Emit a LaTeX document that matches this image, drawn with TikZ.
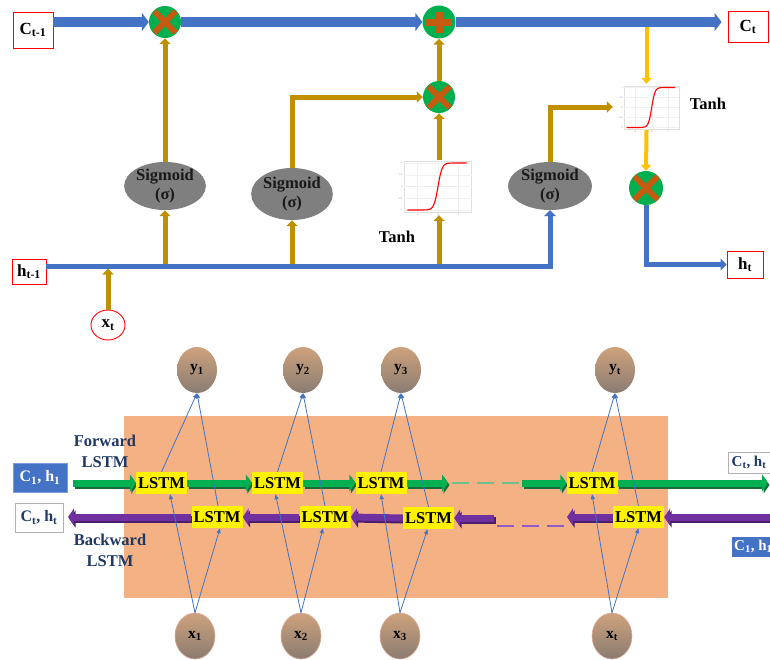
\documentclass[tikz,border=0pt]{standalone}
\usepackage{fontspec}
\setmainfont{Liberation Serif}
\usetikzlibrary{arrows.meta,calc,shapes.geometric}
\definecolor{cblue}{HTML}{4472C4}
\definecolor{cgold}{HTML}{BF9000}
\definecolor{cyellow}{HTML}{FFC000}
\definecolor{cgreen}{HTML}{00B050}
\definecolor{cdgreen}{HTML}{1B6B3A}
\definecolor{corange}{HTML}{C55A11}
\definecolor{cgray}{HTML}{7F7F7F}
\definecolor{cbg}{HTML}{F4B183}
\definecolor{cnavy}{HTML}{1F3864}
\definecolor{cpurple}{HTML}{7030A0}
\definecolor{cdpurple}{HTML}{4A1D6E}
\definecolor{cdashg}{HTML}{6CC08A}
\definecolor{cdashp}{HTML}{8E5CC4}
\newcommand{\myplotbody}{%
  \draw[gray!25, line width=0.3pt] (-8.2,-1.08) rectangle (8.2,1.08);
  \foreach \gx in {-5,0,5} \draw[gray!12, line width=0.3pt] (\gx,-1.08) -- (\gx,1.08);
  \foreach \gy in {-1,-0.5,0,0.5,1} \draw[gray!12, line width=0.3pt] (-8.2,\gy) -- (8.2,\gy);
  \draw[red, line width=1.1pt, domain=-7.5:7, samples=80, smooth] plot (\x,{tanh(\x)});
  \foreach \gy/\gl in {-1/-1,-0.5/-0.5,0/0,0.5/0.5,1/1}
    \node[font=\fontsize{2.5}{3}\selectfont, text=gray, inner sep=0, anchor=east] at (-8.6,\gy) {\gl};
  \foreach \gx/\gl in {-5/-5,0/0,5/5}
    \node[font=\fontsize{2.5}{3}\selectfont, text=gray, inner sep=0, anchor=north] at (\gx,-1.15) {\gl};
}
\begin{document}
\begin{tikzpicture}[x=1pt,y=-1pt,
  lbl/.style={font=\fontsize{16.5}{19}\selectfont\bfseries, text=black, inner sep=0},
  redbox/.style={draw=red, line width=0.9pt, fill=white, inner sep=0, font=\fontsize{17}{20}\selectfont\bfseries},
  mulnode/.style={circle, fill=cgreen, minimum size=32pt, inner sep=0, path picture={
    \draw[line width=6pt, corange, shorten <=7.6pt, shorten >=7.6pt] (path picture bounding box.north west) -- (path picture bounding box.south east);
    \draw[line width=6pt, corange, shorten <=7.6pt, shorten >=7.6pt] (path picture bounding box.south west) -- (path picture bounding box.north east);}},
  addnode/.style={circle, fill=cgreen, minimum size=33pt, inner sep=0, path picture={
    \draw[line width=7pt, corange, shorten <=3.5pt, shorten >=3.5pt] (path picture bounding box.west) -- (path picture bounding box.east);
    \draw[line width=7pt, corange, shorten <=6pt, shorten >=6pt] (path picture bounding box.north) -- (path picture bounding box.south);}},
  signode/.style={ellipse, fill=cgray, inner sep=0, align=center, text=black!90,
    font=\fontsize{16.5}{19}\selectfont\bfseries},
  thickblue/.style={draw=cblue, line width=10pt, -{Triangle[width=18pt,length=7pt]}},
  medblue/.style={draw=cblue, line width=5pt, -{Triangle[width=12pt,length=6pt]}},
  goldarr/.style={draw=cgold, line width=5pt, -{Triangle[width=11pt,length=6pt]}},
  yelarr/.style={draw=cyellow, line width=4pt, -{Triangle[width=10pt,length=6pt]}},
  lstm/.style={fill=yellow, minimum width=51pt, minimum height=22pt, inner sep=0,
    font=\fontsize{16.5}{19}\selectfont\bfseries},
  ball/.style={ellipse, minimum width=40pt, minimum height=46pt, inner sep=0,
    top color={rgb,255:red,206;green,162;blue,124}, bottom color={rgb,255:red,138;green,124;blue,114},
    font=\fontsize{15.5}{18}\selectfont\bfseries},
  xball/.style={ball, draw={rgb,255:red,225;green,170;blue,150}, line width=0.6pt},
  fwdarr/.style={draw=cgreen, line width=7pt, -{Triangle[width=17pt,length=6pt]}},
  fwdsh/.style={draw=cdgreen, line width=7pt, -{Triangle[width=17pt,length=6pt]}},
  bwdarr/.style={draw=cpurple, line width=7pt, -{Triangle[width=17pt,length=6pt]}},
  bwdsh/.style={draw=cdpurple, line width=7pt, -{Triangle[width=17pt,length=6pt]}},
  thin/.style={draw=cblue, line width=0.8pt, -{Triangle[width=4pt,length=5pt]}},
  navytxt/.style={font=\fontsize{16.5}{21}\selectfont\bfseries, text=cnavy, align=center, inner sep=0},
]
\useasboundingbox (0,0) rectangle (770,659);
\clip (0,0) rectangle (770,659);
\fill[white] (0,0) rectangle (770,659);

% ================= TOP: LSTM cell =================
\node[redbox, minimum width=40pt, minimum height=36pt] (ctm1) at (33,30) {C\textsubscript{t-1}};
\node[redbox, minimum width=40pt, minimum height=31pt] (ct) at (748,27) {C\textsubscript{t}};
\node[redbox, minimum width=34pt, minimum height=25pt] (htm1) at (29,271.5) {h\textsubscript{t-1}};
\node[redbox, minimum width=36pt, minimum height=27pt] (ht) at (745,264.5) {h\textsubscript{t}};
\node[ellipse, draw=red, line width=0.9pt, minimum width=34pt, minimum height=30pt, inner sep=0,
      font=\fontsize{17}{20}\selectfont\bfseries] (xt) at (108,325) {x\textsubscript{t}};

\node[mulnode] (mul1) at (165,22) {};
\node[addnode] (add) at (439,22) {};
\node[mulnode] (mul2) at (439,97) {};
\node[mulnode, minimum size=34pt] (mul3) at (646,188) {};

\node[signode, minimum width=80pt, minimum height=48pt] (sig1) at (165,186) {Sigmoid\\(σ)};
\node[signode, minimum width=80pt, minimum height=52pt] (sig2) at (292,194) {Sigmoid\\(σ)};
\node[signode, minimum width=84pt, minimum height=46pt] (sig3) at (550,186) {Sigmoid\\(σ)};

% tanh plots
\node[minimum width=67pt, minimum height=46pt, inner sep=0] (tanhA) at (646.5,107) {};
\begin{scope}[shift={(651.7,107.5)}, x=3.33pt, y=20pt]
  \myplotbody
\end{scope}
\node[minimum width=73pt, minimum height=55pt, inner sep=0] (tanhB) at (437.5,187.5) {};
\begin{scope}[shift={(438,186.5)}, x=4.1pt, y=23.5pt]
  \myplotbody
\end{scope}
\node[lbl] (tanhlabA) at (708,104) {Tanh};
\node[lbl] (tanhlabB) at (397,237) {Tanh};

\coordinate (hline) at (0,266);

% gold / yellow connectors (drawn under the blue lines)
\draw[goldarr] (sig1.south |- hline) -- (sig1.south);
\draw[goldarr] (sig2.south |- hline) -- (sig2.south);
\draw[goldarr] (mul2.south |- hline) -- (mul2.south |- tanhB.south);
\draw[goldarr] (sig1.north) -- (mul1.south);
\draw[goldarr] (sig2.north) |- (mul2.west);
\draw[goldarr] (mul2.south |- tanhB.north) -- (mul2.south);
\draw[goldarr] (mul2.north) -- (add.south);
\draw[goldarr] (sig3.north) |- (tanhA.west);
\draw[goldarr] (xt.north) -- ([yshift=-2.5pt]xt.north |- hline);
\draw[yelarr] (tanhA.north |- add.east) -- (tanhA.north);
\draw[yelarr] (tanhA.south) -- (mul3.north);

% blue connectors
\draw[thickblue] (ctm1.east |- mul1.west) -- (mul1.west);
\draw[thickblue] (mul1.east) -- (add.west);
\draw[thickblue, shorten >=6pt] (add.east) -- (ct.west |- add.east);
\draw[medblue] (htm1.east |- hline) -| (sig3.south);
\draw[medblue] (mul3.south) |- (ht.west);

% ================= BOTTOM: BiLSTM =================
\fill[cbg] (124,416) rectangle (668,598);

\node[ball] (y1) at (197,370) {y\textsubscript{1}};
\node[ball] (y2) at (303,370) {y\textsubscript{2}};
\node[ball] (y3) at (401,370) {y\textsubscript{3}};
\node[ball] (yt) at (615,370) {y\textsubscript{t}};
\node[xball] (x1) at (195,636) {x\textsubscript{1}};
\node[xball] (x2) at (301,636) {x\textsubscript{2}};
\node[xball] (x3) at (400,636) {x\textsubscript{3}};
\node[xball] (xtb) at (612,636) {x\textsubscript{t}};

\node[lstm] (f1) at (161.5,483) {LSTM};
\node[lstm] (f2) at (277.5,483) {LSTM};
\node[lstm] (f3) at (381,483) {LSTM};
\node[lstm] (ft) at (592,483) {LSTM};
\node[lstm] (b1) at (217,517) {LSTM};
\node[lstm] (b2) at (325,517) {LSTM};
\node[lstm] (b3) at (428.5,518) {LSTM};
\node[lstm] (bt) at (638.5,517) {LSTM};

\coordinate (fs) at (73,483);
\coordinate (fd1) at (448,483);
\coordinate (fd2) at (522,483);
\coordinate (fe) at (768,483);
\coordinate (be) at (772,517);
\coordinate (bd2) at (567,517);
\coordinate (bd1) at (494,518);
\coordinate (bs) at (68,517);
\coordinate (gd1) at (452,483);
\coordinate (gd2) at (520,483);
\coordinate (pd1) at (497,526);
\coordinate (pd2) at (566,526);

% forward arrows (shadow then main)
\foreach \a/\b in {fs/f1.west, f1.east/f2.west, f2.east/f3.west, f3.east/fd1, fd2/ft.west, ft.east/fe}{
  \draw[fwdsh] ([shift={(1.5,2)}]\a) -- ([shift={(1.5,2)}]\b);
  \draw[fwdarr] (\a) -- (\b);
}
\draw[cdashg, line width=1.6pt, dash pattern=on 17pt off 8pt] (gd1) -- (gd2);
% backward arrows
\foreach \a/\b in {be/bt.east, bt.west/bd2, bd1/b3.east, b3.west/b2.east, b2.west/b1.east, b1.west/bs}{
  \draw[bwdsh] ([shift={(1.5,2)}]\a) -- ([shift={(1.5,2)}]\b);
  \draw[bwdarr] (\a) -- (\b);
}
\draw[cdashp, line width=1.3pt, dash pattern=on 17pt off 8pt] (pd1) -- (pd2);

% redraw LSTM boxes on top of arrows
\node[lstm] at (f1) {LSTM};
\node[lstm] at (f2) {LSTM};
\node[lstm] at (f3) {LSTM};
\node[lstm] at (ft) {LSTM};
\node[lstm] at (b1) {LSTM};
\node[lstm] at (b2) {LSTM};
\node[lstm] at (b3) {LSTM};
\node[lstm] at (bt) {LSTM};

% thin blue connectors
\draw[thin] (x1.north) -- ([xshift=8.5pt]f1.south);
\draw[thin] (x1.north) -- ([xshift=3pt]b1.south);
\draw[thin] (f1.north) -- (y1.south);
\draw[thin] ([xshift=1pt]b1.north) -- (y1.south);
\draw[thin] (x2.north) -- ([xshift=-2pt]f2.south);
\draw[thin] (x2.north) -- ([xshift=-2pt]b2.south);
\draw[thin] (f2.north) -- (y2.south);
\draw[thin] (b2.north) -- (y2.south);
\draw[thin] (x3.north) -- (f3.south);
\draw[thin] (x3.north) -- ([xshift=-1pt]b3.south);
\draw[thin] (f3.north) -- (y3.south);
\draw[thin] (b3.north) -- (y3.south);
\draw[thin] (xtb.north) -- (ft.south);
\draw[thin] (xtb.north) -- (bt.south);
\draw[thin] (ft.north) -- (yt.south);
\draw[thin] (bt.north) -- (yt.south);

% labels
\node[navytxt] (fwdlab) at (105,451) {Forward\\LSTM};
\node[navytxt] (bwdlab) at (110,550) {Backward\\LSTM};
\node[fill=cblue, draw=cblue!70!white, line width=0.8pt, minimum width=54pt, minimum height=29pt, inner sep=0,
      text=white, font=\fontsize{16}{19}\selectfont\bfseries] (c1h1L) at (40,477.5) {C\textsubscript{1}, h\textsubscript{1}};
\node[fill=white, draw=gray!60, line width=0.8pt, minimum width=48pt, minimum height=29pt, inner sep=0,
      text=cnavy, font=\fontsize{16}{19}\selectfont\bfseries] (cthtL) at (39,517.5) {C\textsubscript{t}, h\textsubscript{t}};
\node[fill=white, draw=gray!60, line width=0.8pt, minimum width=42pt, minimum height=21pt, inner sep=0,
      text=cnavy, font=\fontsize{15}{18}\selectfont\bfseries] (cthtR) at (749,462.5) {C\textsubscript{t}, h\textsubscript{t}};
\node[fill=cblue, minimum height=20pt, inner sep=2pt, anchor=west,
      text=white, font=\fontsize{15}{18}\selectfont\bfseries] (c1h1R) at (732,546.5) {C\textsubscript{1}, h\textsubscript{1}};
\end{tikzpicture}
\end{document}
